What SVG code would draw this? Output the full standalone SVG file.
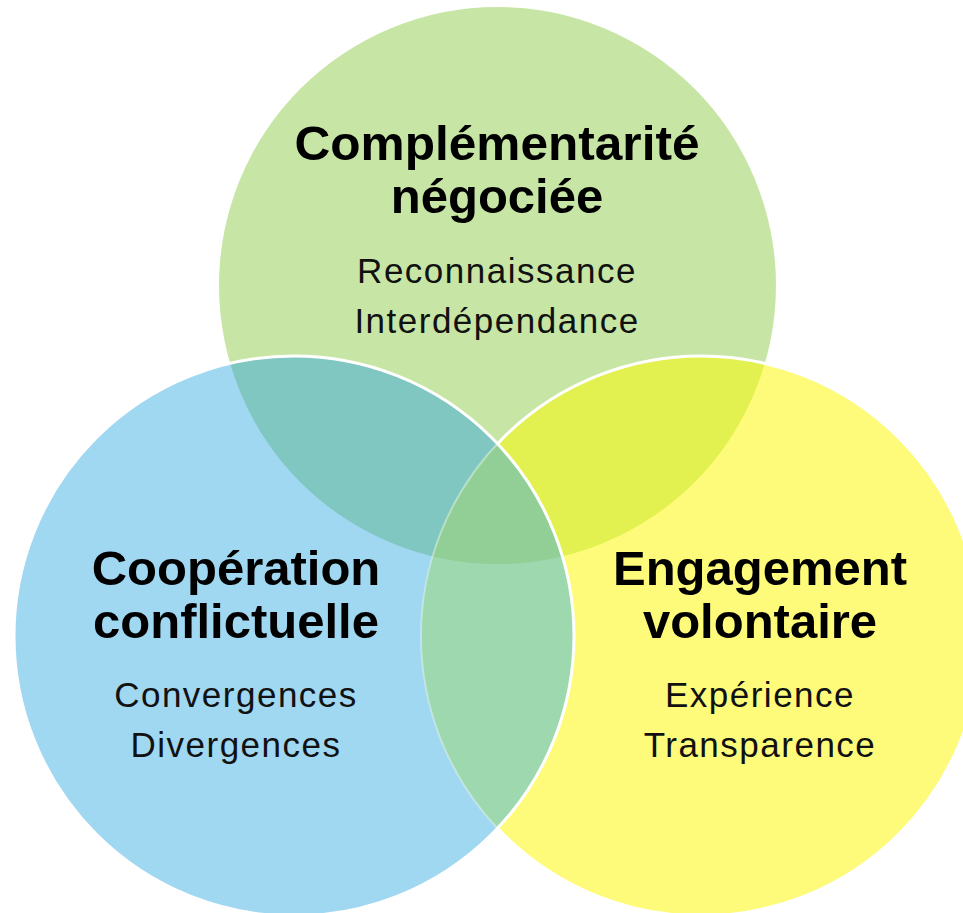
<svg xmlns="http://www.w3.org/2000/svg" width="963" height="913" viewBox="0 0 963 913">
<style>
.title{font-family:"Liberation Sans",Arial,sans-serif;font-weight:700;font-size:49px;fill:#000;text-anchor:middle}
.sub{font-family:"Liberation Sans",Arial,sans-serif;font-weight:400;font-size:35px;fill:#111;text-anchor:middle;letter-spacing:1.5px}
</style>
<defs>
<clipPath id="cG"><circle cx="497.5" cy="285.5" r="278.5"/></clipPath>
<clipPath id="cB"><circle cx="294" cy="636" r="280"/></clipPath>
<clipPath id="cY"><circle cx="701" cy="636" r="280"/></clipPath>
<mask id="outB"><rect width="963" height="913" fill="#fff"/><circle cx="294" cy="636" r="280" fill="#000"/></mask>
</defs>
<rect width="963" height="913" fill="#fff"/>
<g id="node-complementarite">
<circle cx="497.5" cy="285.5" r="278.5" fill="#c7e6a5"/>
</g>
<g id="node-engagement">
<circle cx="701" cy="636" r="280" fill="#fefb7b"/>
</g>
<g id="node-cooperation">
<circle cx="294" cy="636" r="280" fill="#a0d7f1"/>
</g>
<g id="overlaps">
<g clip-path="url(#cG)"><circle cx="294" cy="636" r="280" fill="#80c7c2"/></g>
<g clip-path="url(#cG)"><circle cx="701" cy="636" r="280" fill="#e3f150"/></g>
<g clip-path="url(#cB)"><circle cx="701" cy="636" r="280" fill="#9dd8ae"/></g>
<g clip-path="url(#cB)"><g clip-path="url(#cY)"><circle cx="497.5" cy="285.5" r="278.5" fill="#91cf97"/></g></g>
</g>
<g id="outlines" fill="none">
<circle cx="701" cy="636" r="280" stroke="#fff" stroke-width="3" mask="url(#outB)"/>
<g clip-path="url(#cB)"><circle cx="701" cy="636" r="280" stroke="#fff" stroke-opacity="0.35" stroke-width="2"/></g>
<circle cx="294" cy="636" r="280" stroke="#fff" stroke-width="3"/>
</g>
<g id="labels-complementarite">
<text class="title" x="497" y="160" textLength="405" lengthAdjust="spacingAndGlyphs">Complémentarité</text>
<text class="title" x="497" y="213">négociée</text>
<text class="sub" x="497" y="283">Reconnaissance</text>
<text class="sub" x="497" y="333">Interdépendance</text>
</g>
<g id="labels-cooperation">
<text class="title" x="236" y="585">Coopération</text>
<text class="title" x="236" y="638">conflictuelle</text>
<text class="sub" x="236" y="707">Convergences</text>
<text class="sub" x="236" y="757">Divergences</text>
</g>
<g id="labels-engagement">
<text class="title" x="760" y="585">Engagement</text>
<text class="title" x="760" y="638">volontaire</text>
<text class="sub" x="760" y="707">Expérience</text>
<text class="sub" x="760" y="757">Transparence</text>
</g>
</svg>
